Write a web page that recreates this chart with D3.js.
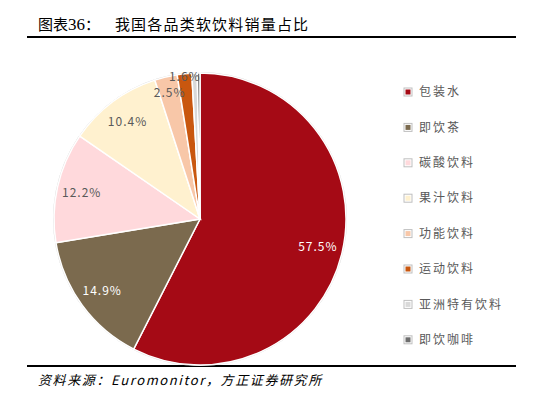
<!DOCTYPE html>
<html>
<head>
<meta charset="utf-8">
<script src="https://cdn.jsdelivr.net/npm/d3@7"></script>
<style>
  body { margin: 0; background: #fff; }
  text { font-family: "Noto Sans CJK SC", sans-serif; }
</style>
</head>
<body>
<svg id="chart" width="537" height="398"></svg>
<script>
// 我国各品类软饮料销量占比 (%)
var categories = ["包装水", "即饮茶", "碳酸饮料", "果汁饮料", "功能饮料", "运动饮料", "亚洲特有饮料", "即饮咖啡"];
var shares = [57.5, 14.9, 12.2, 10.4, 2.5, 1.6, 0.6, 0.3];
var colors = ["#a50a15", "#7b6a4e", "#ffd9dc", "#fff1cf", "#f8c7a8", "#c9570f", "#d9d9d9", "#6e6e6e"];
var labelColors = ["#ffffff", "#ffffff", "#595959", "#595959", "#595959", "#595959", "#595959", "#595959"];
var showLabel = [true, true, true, true, true, true, false, false];

var svg = d3.select("#chart");
var cx = 200, cy = 219, R = 146;

// title + rules
svg.append("text")
    .attr("x", 38).attr("y", 30)
    .attr("font-size", 15)
    .attr("fill", "#000")
    .attr("xml:space", "preserve")
    .text("图表")
    .append("tspan").attr("font-family", "Liberation Serif").attr("font-size", 17).text("36")
    .select(function () { return this.parentNode; })
    .append("tspan").attr("letter-spacing", 1.2).text("：   我国各品类软饮料销量占比");

svg.append("line").attr("x1", 27).attr("x2", 516).attr("y1", 37).attr("y2", 37)
    .attr("stroke", "#000").attr("stroke-width", 2);
svg.append("line").attr("x1", 27).attr("x2", 516).attr("y1", 366).attr("y2", 366)
    .attr("stroke", "#000").attr("stroke-width", 2);

svg.append("text")
    .attr("x", 38).attr("y", 385)
    .attr("font-size", 13)
    .attr("font-style", "italic")
    .attr("letter-spacing", 1.6)
    .attr("fill", "#000")
    .text("资料来源：Euromonitor，方正证券研究所");

var data = categories.map(function (c, i) {
    return { name: c, value: shares[i], color: colors[i], labelColor: labelColors[i], show: showLabel[i] };
});

var pie = d3.pie().sort(null).value(function (d) { return d.value; });
var arc = d3.arc().innerRadius(0).outerRadius(R);
var arcs = pie(data);

var g = svg.append("g").attr("transform", "translate(" + cx + "," + cy + ")");

g.append("circle").attr("r", R + 0.5).attr("fill", "none").attr("stroke", "#d9d9d9").attr("stroke-width", 1);

g.selectAll("path")
    .data(arcs)
    .enter()
    .append("path")
    .attr("d", arc)
    .attr("fill", function (d) { return d.data.color; })
    .attr("stroke", "#fff")
    .attr("stroke-width", 1.5);

// labels: small slices get pushed outward
g.selectAll("text.lbl")
    .data(arcs.filter(function (d) { return d.data.show; }))
    .enter()
    .append("text")
    .attr("class", "lbl")
    .attr("transform", function (d) {
        var v = d.data.value;
        var r = v < 2 ? R * 0.98 : (v < 5 ? R * 0.89 : R * 0.83);
        var a = (d.startAngle + d.endAngle) / 2;
        return "translate(" + (r * Math.sin(a)) + "," + (-r * Math.cos(a)) + ")";
    })
    .attr("text-anchor", "middle")
    .attr("dy", "0.35em")
    .attr("font-size", 12)
    .attr("letter-spacing", 1)
    .attr("fill", function (d) { return d.data.labelColor; })
    .text(function (d) { return d3.format(".1f")(d.data.value) + "%"; });

// legend
var legend = svg.append("g").attr("transform", "translate(404,92)");
var row = legend.selectAll("g")
    .data(data)
    .enter()
    .append("g")
    .attr("transform", function (d, i) { return "translate(0," + (i * 35.4) + ")"; });

row.append("rect")
    .attr("x", 0).attr("y", -4).attr("width", 8).attr("height", 8)
    .attr("fill", "#fff").attr("stroke", "#bfbfbf").attr("stroke-width", 1);
row.append("rect")
    .attr("x", 1.5).attr("y", -2.5).attr("width", 5).attr("height", 5)
    .attr("fill", function (d) { return d.color; });
row.append("text")
    .attr("x", 15).attr("dy", "0.35em")
    .attr("font-size", 12)
    .attr("letter-spacing", 2)
    .attr("fill", "#595959")
    .text(function (d) { return d.name; });
</script>
</body>
</html>
